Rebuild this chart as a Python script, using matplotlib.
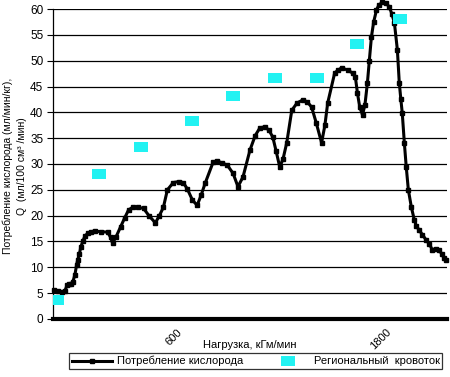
import numpy as np
import matplotlib.pyplot as plt
import matplotlib.transforms as mtransforms
from matplotlib.path import Path

plt.rcParams['font.family'] = ['Liberation Sans', 'DejaVu Sans']

#%% data
# oxygen consumption curve, load (kGm/min) vs Q
load = [-166, -143, -120, -103, -90, -80, -68, -57, -45, -35, -29, -20, -11, 0, 12, 29, 46, 70, 103,
        143, 160, 171, 190, 217, 240, 263, 286, 320, 349, 380, 417, 440, 463, 486, 520, 550, 577,
        600, 630, 657, 680, 703, 749, 771, 800, 829, 863, 891, 920, 960, 990, 1017, 1046,
        1070, 1091, 1110, 1131, 1150, 1171, 1200, 1230, 1263, 1290, 1314, 1340, 1371, 1390,
        1406, 1446, 1466, 1486, 1520, 1549, 1565, 1577, 1590, 1606, 1620, 1634, 1645, 1657,
        1670, 1686, 1700, 1720, 1740, 1760, 1775, 1789, 1806, 1817, 1826, 1834, 1846, 1857,
        1869, 1886, 1903, 1915, 1931, 1950, 1971, 1990, 2006, 2025, 2046, 2060, 2074, 2086]
oxygen = [5.6, 5.4, 5.3, 5.4, 6.5, 6.8, 6.8, 7.2, 8.5, 10.5, 11.4, 12.5, 13.9, 15.0, 16.0, 16.6,
          16.9, 17.0, 16.9, 16.8, 15.8, 14.7, 15.8, 17.8, 19.5, 21.1, 21.6, 21.6, 21.4, 20.0, 18.6,
          20.0, 21.6, 25.0, 26.4, 26.6, 26.4, 25.2, 23.0, 22.0, 24.0, 26.3, 30.4, 30.6, 30.2,
          29.8, 28.2, 25.6, 27.5, 32.7, 35.5, 37.0, 37.2, 36.5, 35.2, 32.5, 29.4, 31.0, 34.1,
          40.4, 41.8, 42.4, 42.0, 41.0, 38.0, 34.1, 37.5, 41.8, 47.6, 48.2, 48.6, 48.2, 47.6,
          46.8, 43.7, 41.0, 39.5, 41.5, 45.7, 50.0, 54.6, 57.5, 59.8, 60.8, 61.3, 61.2, 60.4,
          59.0, 57.3, 52.1, 45.7, 42.5, 39.9, 34.1, 29.4, 25.0, 21.7, 19.2, 18.0, 17.2, 16.3,
          15.3, 14.5, 13.4, 13.6, 13.4, 12.6, 11.8, 11.5]

# regional blood flow
flow_load = [-146, 94, 334, 629, 863, 1103, 1343, 1577, 1823]
flow = [3.7, 28.1, 33.3, 38.3, 43.2, 46.6, 46.6, 53.2, 58.1]

xticks = [600, 1800]
xticklabels = ['600', '1800']

#%% plot
fig = plt.figure(figsize=(4.5, 3.77), dpi=100)
ax = fig.add_axes([0.118, 0.154, 0.875, 0.822])

ax.set_ylim(0, 60)
ax.set_xlim(-170, 2090)
ax.set_yticks(np.arange(0, 61, 5))
ax.grid(axis='y', color='black', linewidth=0.9)
ax.set_axisbelow(True)

line, = ax.plot(load, oxygen, color='black', linewidth=2.2, marker='s', markersize=3.2,
                clip_on=False, zorder=3)

rect = Path([(-1.45, -1), (1.45, -1), (1.45, 1), (-1.45, 1), (-1.45, -1)],
            [Path.MOVETO, Path.LINETO, Path.LINETO, Path.LINETO, Path.CLOSEPOLY])
flow_pts, = ax.plot(flow_load, flow, linestyle='none', marker=rect, markersize=10,
                    color='#22f2f2', markeredgewidth=0, zorder=4)

for s in ['top', 'right']:
    ax.spines[s].set_visible(False)
ax.spines['bottom'].set_linewidth(3)
ax.spines['left'].set_linewidth(0.9)

ax.set_xticks(xticks)
ax.set_xticklabels(xticklabels, rotation=45, ha='right', rotation_mode='anchor', fontsize=8)
ax.tick_params(axis='x', length=0, pad=6)
ax.tick_params(axis='y', length=4, width=0.8, labelsize=8.5, pad=3)
# shift rotated labels a little to the left, as in the original
shift = mtransforms.ScaledTranslation(-10 / 100, 0, fig.dpi_scale_trans)
for lab in ax.get_xticklabels():
    lab.set_transform(lab.get_transform() + shift)

fig.text(0.555, 0.085, 'Нагрузка, кГм/мин', ha='center', va='center', fontsize=8)
fig.text(0.018, 0.56, 'Потребление кислорода (мл/мин/кг),', rotation=90,
         ha='center', va='center', fontsize=7.5)
fig.text(0.05, 0.56, 'Q  (мл/100 см³ /мин)', rotation=90,
         ha='center', va='center', fontsize=7.5)

leg = fig.legend([line, flow_pts], ['Потребление кислорода', 'Региональный  кровоток'],
                 loc='center', bbox_to_anchor=(0.568, 0.042), ncol=2, fontsize=8,
                 frameon=True, fancybox=False, edgecolor='black', borderpad=0.25,
                 columnspacing=2.2, handlelength=3.6, handletextpad=0.5)
leg.get_frame().set_linewidth(0.9)

fig.savefig('out.png', dpi=100)
